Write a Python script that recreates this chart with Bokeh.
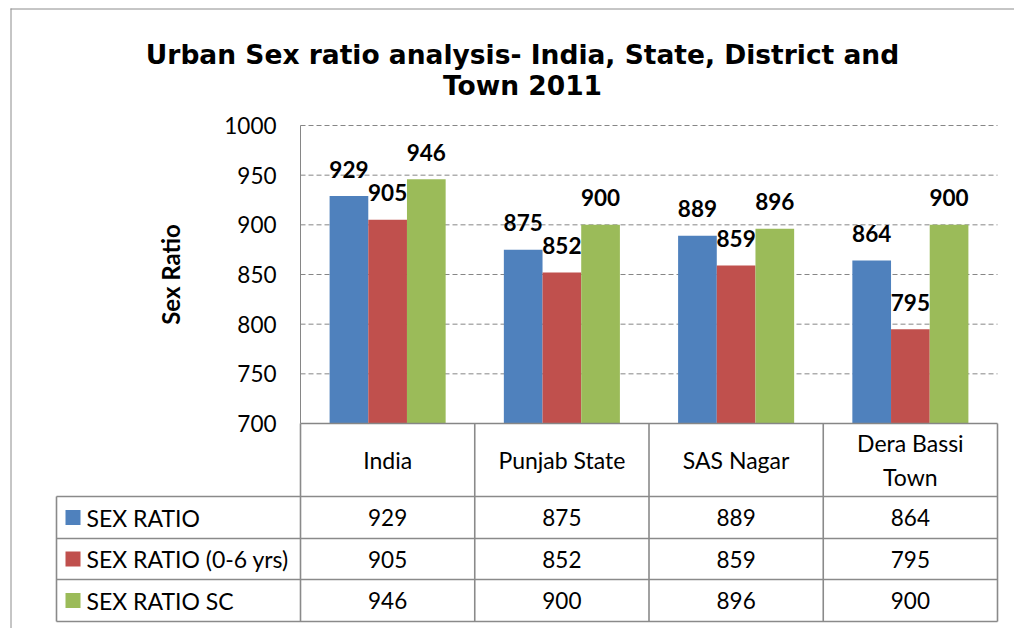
from bokeh.plotting import figure
from bokeh.models import Range1d, LinearAxis, FixedTicker, ColumnDataSource
from bokeh.core.properties import value
from bokeh.embed import file_html
from bokeh.resources import INLINE

# ---------------- data ----------------
categories = ["India", "Punjab State", "SAS Nagar", "Dera Bassi\nTown"]
series_names = ["SEX RATIO", "SEX RATIO (0-6 yrs)", "SEX RATIO SC"]
sex_ratio = [929, 875, 889, 864]
sex_ratio_0_6 = [905, 852, 859, 795]
sex_ratio_sc = [946, 900, 896, 900]
y_ticks = [700, 750, 800, 850, 900, 950, 1000]
title_lines = ["Urban Sex ratio analysis- India, State, District and", "Town 2011"]
y_label = "Sex Ratio"
colors = ["#4F81BD", "#C0504D", "#9BBB59"]

series = [sex_ratio, sex_ratio_0_6, sex_ratio_sc]

# ---------------- geometry (px of the picture) ----------------
W, H = 1014, 628
ORG_X, ORG_Y = 0, 0
PX0, PX1 = 300, 997          # plot area left/right
PY_TOP, PY_BOT = 125, 423    # y of top tick / bottom tick
NCAT = len(categories)
UX = (PX1 - PX0) / NCAT
YMIN, YMAX = y_ticks[0], y_ticks[-1]
UY = (PY_BOT - PY_TOP) / (YMAX - YMIN)


def dx(px):
    return (px - PX0) / UX


def dy(py):
    return YMIN + (PY_BOT - py) / UY


p = figure(width=W, height=H,
           x_range=Range1d(dx(ORG_X), dx(ORG_X + W)),
           y_range=Range1d(dy(ORG_Y + H), dy(ORG_Y)),
           x_axis_type=None, y_axis_type=None,
           output_backend="svg", toolbar_location=None,
           min_border=0, outline_line_color=None,
           background_fill_color="white", border_fill_color="white")

FONT = value("Lato")
GRAY = "#868686"
TGRAY = "#8a8a8a"

# y axis fixed at the left edge of the plot area
yaxis = LinearAxis(fixed_location=0, bounds=(YMIN, YMAX),
                   ticker=FixedTicker(ticks=y_ticks),
                   axis_label=y_label)
yaxis.axis_line_color = GRAY
yaxis.axis_line_width = 1
yaxis.major_tick_in = 0
yaxis.major_tick_out = 0
yaxis.minor_tick_line_color = None
yaxis.major_label_standoff = 24
yaxis.major_label_text_font = "Lato"
yaxis.major_label_text_font_size = "22.5px"
yaxis.major_label_text_color = "#000000"
yaxis.axis_label_text_font = "Lato"
yaxis.axis_label_text_font_style = "bold"
yaxis.axis_label_text_font_size = "24px"
yaxis.axis_label_text_color = "#000000"
yaxis.axis_label_standoff = 36
p.add_layout(yaxis, "left")

# dashed grid lines
grid_vals = [t for t in y_ticks if t > YMIN]
p.segment(x0=[0] * len(grid_vals), x1=[NCAT] * len(grid_vals), y0=grid_vals, y1=grid_vals,
          line_color=GRAY, line_width=1, line_dash="5 3")

# bars
bw = 0.222
for k, vals in enumerate(series):
    xs = [i + 0.5 + (k - 1) * bw for i in range(NCAT)]
    src = ColumnDataSource(dict(x=xs, top=vals, lbl=[str(v) for v in vals]))
    p.vbar(x="x", top="top", bottom=YMIN, width=bw, source=src,
           fill_color=colors[k], line_color=None)
    p.text(x="x", y="top", text="lbl", source=src, text_align="center",
           text_baseline="middle", y_offset=-27, text_font=FONT,
           text_font_style="bold", text_font_size="22.5px", text_color="#000000")

# title
tl_y = [dy(54), dy(85)]
p.text(x=[dx(522)] * len(title_lines), y=tl_y, text=title_lines,
       text_align="center", text_baseline="alphabetic",
       text_font=value("DejaVu Sans"), text_font_style="bold",
       text_font_size="26.5px", text_color="#000000")

# ---------------- data table ----------------
row_edges_px = [496, 538, 579, 621]
TLEFT = 56
# axis line / table top
p.segment(x0=[0], x1=[NCAT], y0=[YMIN], y1=[YMIN], line_color=GRAY, line_width=1.5)
# vertical column lines
p.segment(x0=list(range(NCAT + 1)), x1=list(range(NCAT + 1)),
          y0=[YMIN] * (NCAT + 1), y1=[dy(row_edges_px[-1])] * (NCAT + 1),
          line_color=TGRAY, line_width=1.6)
# horizontal row lines
p.segment(x0=[dx(TLEFT)] * len(row_edges_px), x1=[NCAT] * len(row_edges_px),
          y0=[dy(r) for r in row_edges_px], y1=[dy(r) for r in row_edges_px],
          line_color=TGRAY, line_width=1.6)
# left line of legend column
p.segment(x0=[dx(TLEFT)], x1=[dx(TLEFT)], y0=[dy(row_edges_px[0])], y1=[dy(row_edges_px[-1])],
          line_color=TGRAY, line_width=1.6)

# header: categories
p.text(x=[i + 0.5 for i in range(NCAT)], y=[dy((PY_BOT + row_edges_px[0]) / 2)] * NCAT,
       text=categories, text_align="center", text_baseline="middle",
       text_line_height=1.2, text_font=FONT, text_font_size="23px", text_color="#000000")

row_centers = [dy((row_edges_px[r] + row_edges_px[r + 1]) / 2) for r in range(len(series))]
# legend keys
p.scatter(x=[dx(72.5)] * len(series), y=row_centers, marker="square", size=15,
          fill_color=colors, line_color=None)
p.text(x=[dx(86)] * len(series), y=row_centers, text=series_names,
       text_align="left", text_baseline="middle", text_font=FONT,
       text_font_size="23px", text_color="#000000")
# values
for r, vals in enumerate(series):
    p.text(x=[i + 0.5 for i in range(NCAT)], y=[row_centers[r]] * NCAT,
           text=[str(v) for v in vals], text_align="center", text_baseline="middle",
           text_font=FONT, text_font_size="22.5px", text_color="#000000")

# outer chart frame (left and top edges visible)
p.segment(x0=[dx(10.5), dx(10)], x1=[dx(10.5), dx(ORG_X + W)],
          y0=[dy(8), dy(8.5)], y1=[dy(ORG_Y + H), dy(8.5)],
          line_color="#8c8c8c", line_width=1)

open("out.html", "w").write(file_html(p, INLINE))
